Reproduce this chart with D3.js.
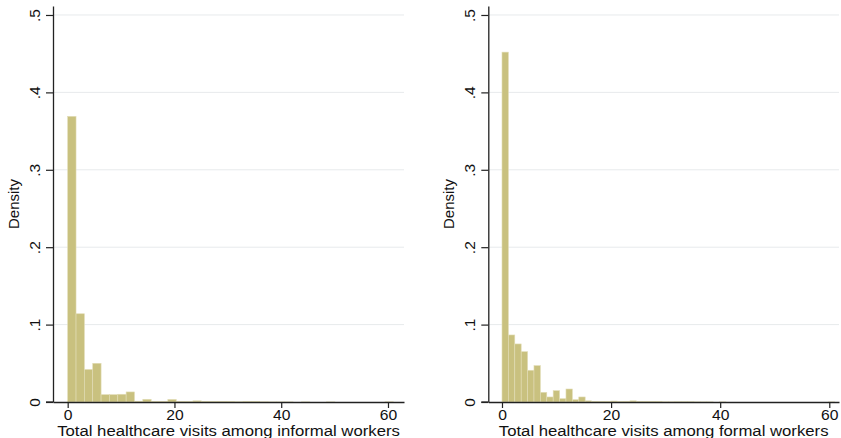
<!DOCTYPE html>
<html>
<head>
<meta charset="utf-8">
<script src="https://cdn.jsdelivr.net/npm/d3@7"></script>
<style>
  body { margin: 0; background: #fff; }
  svg { display: block; font-family: "Liberation Sans", Arial, sans-serif; }
</style>
</head>
<body>
<svg id="chart"></svg>
<script>
// size of the picture
let width = 841
let height = 438

// histogram densities, one value per bin starting at 0
const informalBinWidth = 1.564
const informalDensity = [
  0.369, 0.114, 0.042, 0.050, 0.0095, 0.0095, 0.0100, 0.0130, 0.0010, 0.0035,
  0.0006, 0.0006, 0.0033, 0.0006, 0.0005, 0.0015, 0.0008, 0.0005, 0.0006, 0.0004,
  0.0003, 0.0004, 0.0004, 0.0002, 0.0001, 0.0001, 0.0001, 0.0000, 0.0001, 0.0000,
  0.0000, 0.0001, 0.0000, 0.0000, 0.0000, 0.0000, 0.0000, 0.0000, 0.0002
]

const formalBinWidth = 1.173
const formalDensity = [
  0.452, 0.0866, 0.075, 0.065, 0.041, 0.047, 0.0125, 0.0065, 0.0146, 0.0043,
  0.0168, 0.0030, 0.0065, 0.0015, 0.0008, 0.0005, 0.0004, 0.0012, 0.0005, 0.0006,
  0.0015, 0.0008, 0.0006, 0.0005, 0.0004, 0.0002, 0.0002, 0.0003, 0.0003, 0.0003,
  0.0001, 0.0001, 0.0001, 0.0000, 0.0001, 0.0000, 0.0000, 0.0000, 0.0000, 0.0000,
  0.0000, 0.0000, 0.0000, 0.0000, 0.0000, 0.0000, 0.0000, 0.0000, 0.0000, 0.0000,
  0.0000, 0.0001
]

// axis ticks and labels
const xTicks = [0, 20, 40, 60]
const yTicks = [0, 0.1, 0.2, 0.3, 0.4, 0.5]
const yTickLabels = ['0', '.1', '.2', '.3', '.4', '.5']
const yTitle = 'Density'
const informalTitle = 'Total healthcare visits among informal workers'
const formalTitle = 'Total healthcare visits among formal workers'

let svg = d3.select('#chart')
svg.attr('width', width).attr('height', height)

let drawPanel = (p) => {
  let xScale = d3.scaleLinear().domain(p.xDomain).range([p.left, p.right])
  let yScale = d3.scaleLinear().domain([0, 0.5116]).range([p.bottom, p.top])

  let g = svg.append('g')

  // grid lines
  g.selectAll('line.grid')
    .data(yTicks.slice(1))
    .enter()
    .append('line')
    .attr('class', 'grid')
    .attr('x1', p.left)
    .attr('x2', p.right)
    .attr('y1', d => yScale(d))
    .attr('y2', d => yScale(d))
    .attr('stroke', '#e7eaec')
    .attr('stroke-width', 1)

  // bars
  g.selectAll('rect')
    .data(p.values)
    .enter()
    .append('rect')
    .attr('x', (d, i) => xScale(i * p.binWidth))
    .attr('width', (d, i) => xScale((i + 1) * p.binWidth) - xScale(i * p.binWidth))
    .attr('y', d => yScale(d))
    .attr('height', d => p.bottom - yScale(d))
    .attr('fill', '#c9c17f')
    .attr('stroke', '#e2ddb6')
    .attr('stroke-width', 0.6)

  // x axis
  let xAxis = d3.axisBottom(xScale).tickValues(xTicks).tickSize(6).tickPadding(2).tickSizeOuter(0)
  let gx = g.append('g')
    .attr('transform', 'translate(0,' + p.bottom + ')')
    .call(xAxis)
  gx.select('.domain').attr('stroke', '#222').attr('stroke-width', 1.3)
  gx.selectAll('.tick line').attr('stroke', '#222').attr('stroke-width', 1.2)
  gx.selectAll('.tick text')
    .attr('fill', '#111')
    .style('font-size', '14px')
    .attr('transform', 'scale(1.12,1)')

  // y axis
  let yAxis = d3.axisLeft(yScale).tickValues(yTicks)
    .tickFormat((d, i) => yTickLabels[i]).tickSize(7).tickSizeOuter(0)
  let gy = g.append('g')
    .attr('transform', 'translate(' + p.left + ',0)')
    .call(yAxis)
  gy.select('.domain').attr('stroke', '#222').attr('stroke-width', 1.3)
  gy.selectAll('.tick line').attr('stroke', '#222').attr('stroke-width', 1.2)
  gy.selectAll('.tick text')
    .attr('x', null)
    .attr('dy', null)
    .attr('fill', '#111')
    .style('font-size', '15.5px')
    .attr('text-anchor', 'middle')
    .attr('transform', 'translate(-13,0) rotate(-90)')

  // extend x axis line to the left tick
  g.append('line')
    .attr('x1', p.left - 7)
    .attr('x2', p.left)
    .attr('y1', p.bottom)
    .attr('y2', p.bottom)
    .attr('stroke', '#222')
    .attr('stroke-width', 1.3)

  // y title
  g.append('text')
    .attr('transform', 'translate(' + (p.left - 34) + ',' + ((p.top + p.bottom) / 2) + ') rotate(-90)')
    .attr('text-anchor', 'middle')
    .style('font-family', '"Liberation Sans Narrow", "Liberation Sans", Arial, sans-serif')
    .style('font-size', '15px')
    .attr('fill', '#111')
    .text(yTitle)

  // x title
  g.append('text')
    .attr('transform', 'translate(' + ((p.left + p.right) / 2) + ',436) scale(1.1,1)')
    .attr('text-anchor', 'middle')
    .style('font-size', '15.2px')
    .attr('fill', '#111')
    .text(p.title)
}

drawPanel({
  values: informalDensity, binWidth: informalBinWidth, title: informalTitle,
  xDomain: [-2.75, 63.0], left: 53, right: 404, top: 6, bottom: 402
})
drawPanel({
  values: formalDensity, binWidth: formalBinWidth, title: formalTitle,
  xDomain: [-2.51, 61.78], left: 488.3, right: 839, top: 6, bottom: 402
})
</script>
</body>
</html>
